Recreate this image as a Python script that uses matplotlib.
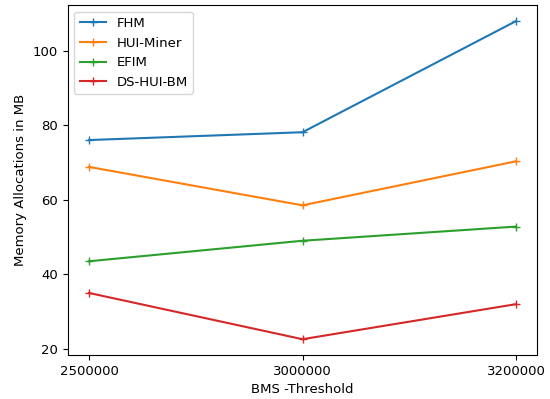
"""Memory allocations vs BMS threshold for four HUI mining algorithms."""

import matplotlib

matplotlib.use("Agg")
import matplotlib.pyplot as plt

thresholds = ["2500000", "3000000", "3200000"]
fhm = [76.0, 78.1, 107.9]
hui_miner = [68.8, 58.5, 70.3]
efim = [43.5, 49.0, 52.8]
ds_hui_bm = [35.0, 22.6, 32.0]

series = [
    ("FHM", fhm),
    ("HUI-Miner", hui_miner),
    ("EFIM", efim),
    ("DS-HUI-BM", ds_hui_bm),
]

plt.rcParams["font.size"] = 9.5

fig, ax = plt.subplots(figsize=(5.5, 3.99), dpi=100)
x = list(range(len(thresholds)))
for label, vals in series:
    ax.plot(x, vals, marker="+", label=label)

ax.set_xticks(x)
ax.set_xticklabels(thresholds)
ax.set_xlabel("BMS -Threshold")
ax.set_ylabel("Memory Allocations in MB")
ax.legend(loc="upper left")

fig.subplots_adjust(left=0.123, right=0.977, top=0.987, bottom=0.11)
fig.savefig("out.png")
